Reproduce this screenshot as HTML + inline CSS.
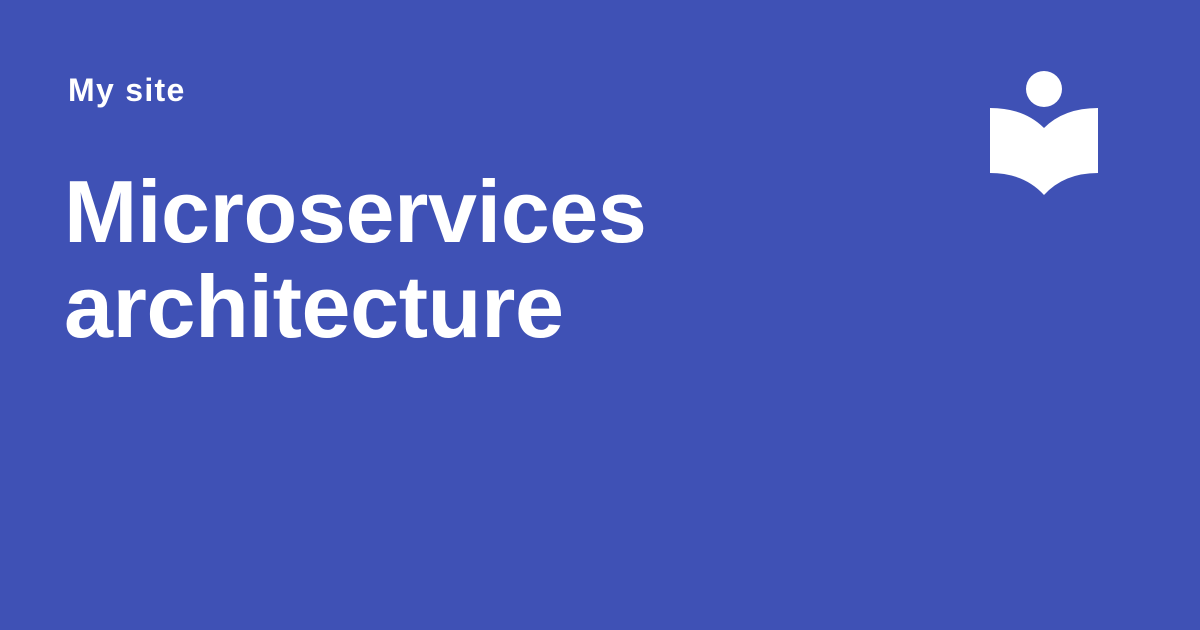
<!DOCTYPE html>
<html><head><style>
html,body{margin:0;padding:0}
body{width:1200px;height:630px;background:#3f51b5;position:relative;overflow:hidden;font-family:"Liberation Sans",sans-serif;color:#fff}
.site{position:absolute;left:68px;top:70px;font-size:32px;font-weight:bold;line-height:40px;letter-spacing:1.3px}
.title{position:absolute;left:64px;top:164px;font-size:88px;font-weight:bold;line-height:95px;letter-spacing:-0.35px}
svg{position:absolute;left:0;top:0}
</style></head><body>
<div class="site">My site</div>
<div class="title">Microservices<br>architecture</div>
<svg width="1200" height="630">
<circle cx="1044" cy="89" r="18" fill="#fff"/>
<path d="M990 108 Q1024 108 1044 128 Q1064 108 1098 108 L1098 173 Q1064 173 1044 195 Q1024 173 990 173 Z" fill="#fff"/>
</svg>
</body></html>
